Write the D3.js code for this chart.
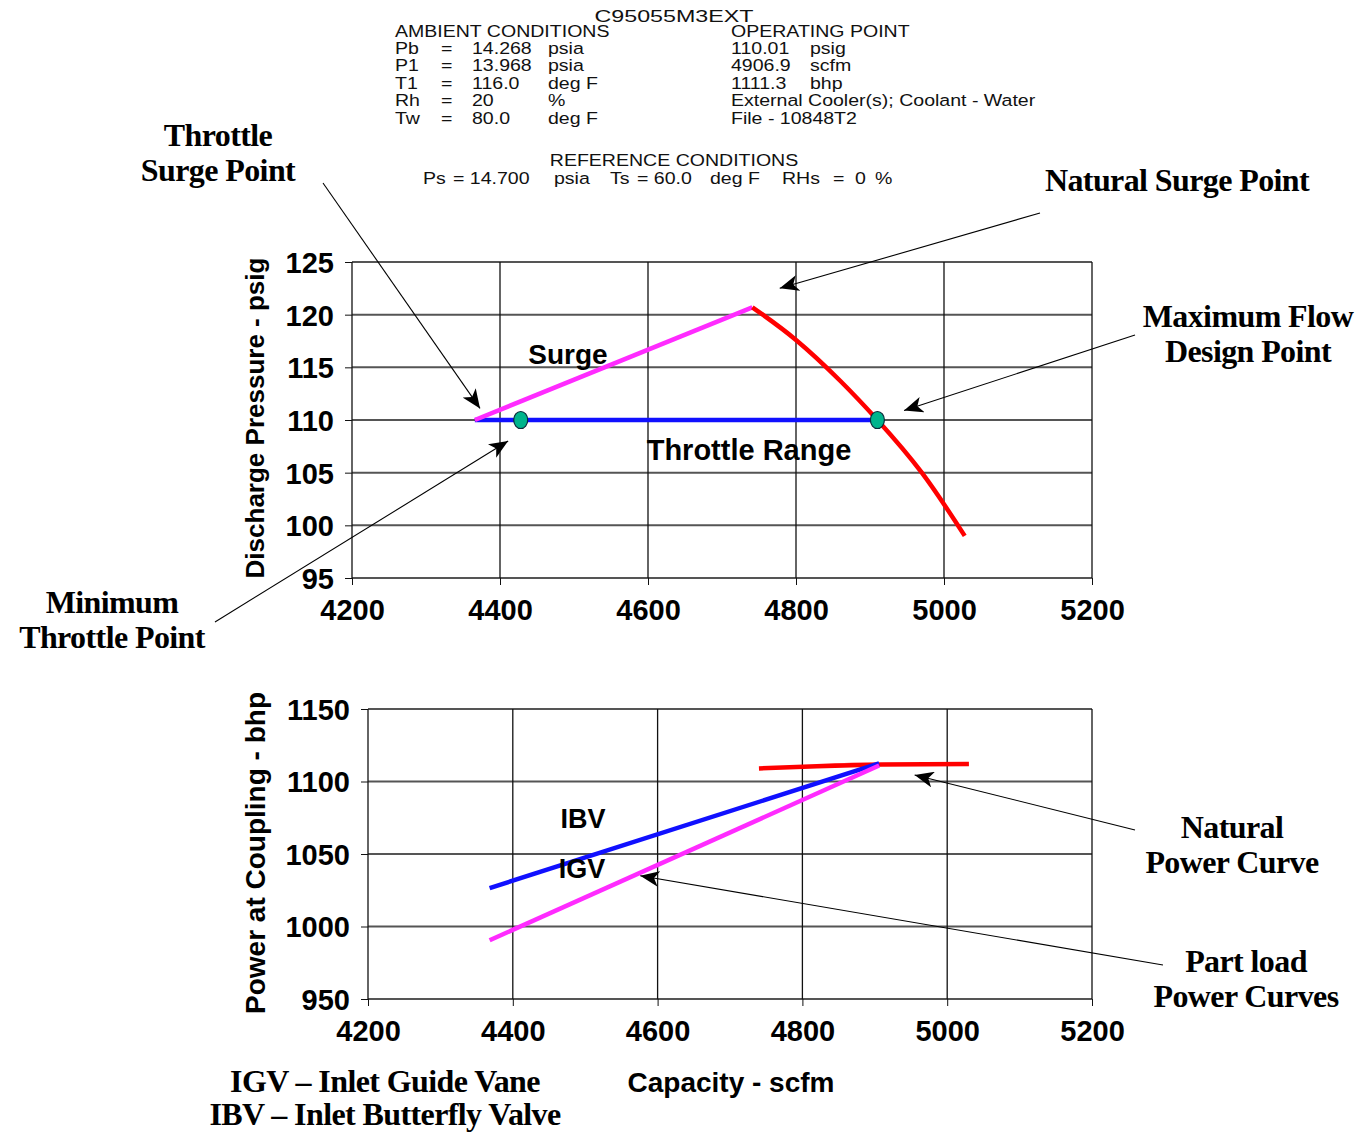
<!DOCTYPE html>
<html>
<head>
<meta charset="utf-8">
<script src="https://cdn.jsdelivr.net/npm/d3@7"></script>
<style>
  body { margin: 0; background: #fff; }
  svg { display: block; }
  .tick text { font-family: "Liberation Sans", Arial, sans-serif; font-weight: bold; font-size: 29px; fill: #000; }
  .hdr { font-family: "Liberation Sans", Arial, sans-serif; font-size: 17px; fill: #111; }
  .note { font-family: "Liberation Serif", "Times New Roman", serif; font-weight: bold; font-size: 32px; letter-spacing: -0.6px; fill: #000; }
  .lab { font-family: "Liberation Sans", Arial, sans-serif; font-weight: bold; fill: #000; }
</style>
</head>
<body>
<div id="chart"></div>
<script>
// tick values
const capTicks = [4200, 4400, 4600, 4800, 5000, 5200];
const pressTicks = [95, 100, 105, 110, 115, 120, 125];
const powerTicks = [950, 1000, 1050, 1100, 1150];

// discharge pressure vs capacity
const surgeLine = [[4366, 110], [4741, 120.7]];
const throttleRange = [[4366, 110], [4910, 110]];
const naturalCurve = [[4741, 120.7], [4800, 117.6], [4860, 113.7], [4910, 110], [4970, 105], [5028, 99]];
const throttlePoints = [[4428, 110], [4910, 110]];

// power vs capacity
const naturalPower = [[4740, 1109], [4820, 1110.5], [4910, 1111.7], [5030, 1112]];
const ibvPower = [[4368, 1026.5], [4906, 1112.5]];
const igvPower = [[4368, 990.5], [4906, 1111]];

// header block
const ambient = [["Pb", "14.268", "psia"], ["P1", "13.968", "psia"], ["T1", "116.0", "deg F"], ["Rh", "20", "%"], ["Tw", "80.0", "deg F"]];
const operating = [["110.01", "psig"], ["4906.9", "scfm"], ["1111.3", "bhp"], ["External Cooler(s); Coolant - Water", ""], ["File - 10848T2", ""]];
const reference = [["Ps", 423], ["= 14.700", 453], ["psia", 554], ["Ts", 610], ["= 60.0", 637], ["deg F", 710], ["RHs", 782], ["=", 833], ["0", 855], ["%", 875]];

const svg = d3.select("#chart").append("svg")
  .attr("width", 1357)
  .attr("height", 1132);

svg.append("rect").attr("width", 1357).attr("height", 1132).attr("fill", "#fff");

const defs = svg.append("defs");
defs.append("marker")
  .attr("id", "head")
  .attr("markerUnits", "userSpaceOnUse")
  .attr("markerWidth", 20).attr("markerHeight", 16)
  .attr("refX", 19).attr("refY", 8)
  .attr("orient", "auto")
  .append("path")
  .attr("d", "M0,0 L19,8 L0,16 L5,8 Z")
  .attr("fill", "#000");

// scales
const xTop = d3.scaleLinear().domain([4200, 5200]).range([352, 1092]);
const yTop = d3.scaleLinear().domain([95, 125]).range([578, 262]);
const xBot = d3.scaleLinear().domain([4200, 5200]).range([368, 1092]);
const yBot = d3.scaleLinear().domain([950, 1150]).range([999, 709]);

function panel(x, y, yTicks) {
  const g = svg.append("g");
  const [x0, x1] = x.range();
  const [yb, yt] = y.range();
  g.selectAll(".hg").data(yTicks).join("line")
    .attr("x1", x0).attr("x2", x1)
    .attr("y1", d => y(d)).attr("y2", d => y(d))
    .attr("stroke", "#555").attr("stroke-width", 2);
  g.selectAll(".vg").data(capTicks).join("line")
    .attr("x1", d => x(d)).attr("x2", d => x(d))
    .attr("y1", yt).attr("y2", yb)
    .attr("stroke", "#111").attr("stroke-width", 1.3);

  g.append("g")
    .attr("transform", `translate(0,${yb})`)
    .call(d3.axisBottom(x).tickValues(capTicks).tickSize(7).tickPadding(14).tickFormat(d3.format("d")))
    .call(a => a.select(".domain").remove())
    .call(a => a.selectAll(".tick line").attr("stroke", "#111"));

  g.append("g")
    .attr("transform", `translate(${x0},0)`)
    .call(d3.axisLeft(y).tickValues(yTicks).tickSize(7).tickPadding(11).tickFormat(d3.format("d")))
    .call(a => a.select(".domain").remove())
    .call(a => a.selectAll(".tick line").attr("stroke", "#111"))
    .call(a => a.selectAll(".tick text").attr("dy", "0.36em"));
  return g;
}

const topPanel = panel(xTop, yTop, pressTicks);
const botPanel = panel(xBot, yBot, powerTicks);

const lineTop = d3.line().x(d => xTop(d[0])).y(d => yTop(d[1]));
const lineBot = d3.line().x(d => xBot(d[0])).y(d => yBot(d[1]));

topPanel.append("path").datum(throttleRange).attr("d", lineTop)
  .attr("fill", "none").attr("stroke", "#1010ff").attr("stroke-width", 4.5);
topPanel.append("path").datum(surgeLine).attr("d", lineTop)
  .attr("fill", "none").attr("stroke", "#ff2bff").attr("stroke-width", 4.5);
topPanel.append("path").datum(naturalCurve)
  .attr("d", d3.line().x(d => xTop(d[0])).y(d => yTop(d[1])).curve(d3.curveNatural))
  .attr("fill", "none").attr("stroke", "#ff0000").attr("stroke-width", 4.5);
topPanel.selectAll(".pt").data(throttlePoints).join("ellipse")
  .attr("cx", d => xTop(d[0])).attr("cy", d => yTop(d[1]))
  .attr("rx", 7).attr("ry", 8.5)
  .attr("fill", "#00b48c").attr("stroke", "#0a2a3a").attr("stroke-width", 1.2);

botPanel.append("path").datum(naturalPower)
  .attr("d", d3.line().x(d => xBot(d[0])).y(d => yBot(d[1])).curve(d3.curveNatural))
  .attr("fill", "none").attr("stroke", "#ff0000").attr("stroke-width", 4.5);
botPanel.append("path").datum(ibvPower).attr("d", lineBot)
  .attr("fill", "none").attr("stroke", "#1010ff").attr("stroke-width", 4.5);
botPanel.append("path").datum(igvPower).attr("d", lineBot)
  .attr("fill", "none").attr("stroke", "#ff2bff").attr("stroke-width", 4.5);

// in-plot labels
function label(x, y, s, size, anchor = "middle") {
  svg.append("text").attr("class", "lab").attr("x", x).attr("y", y)
    .attr("font-size", size).attr("text-anchor", anchor).text(s);
}
label(568, 364, "Surge", 28);
label(749, 460, "Throttle Range", 29);
label(583, 828, "IBV", 27);
label(582, 878, "IGV", 27);
label(731, 1092, "Capacity - scfm", 28);

svg.append("text").attr("class", "lab").attr("font-size", 26)
  .attr("transform", "translate(264,418) rotate(-90)")
  .attr("text-anchor", "middle").text("Discharge Pressure - psig");
svg.append("text").attr("class", "lab").attr("font-size", 28)
  .attr("transform", "translate(265,853) rotate(-90)")
  .attr("text-anchor", "middle").text("Power at Coupling - bhp");

// header text, slightly widened like the original
function hdr(x, y, s, anchor = "start", size = 17, sx = 1.15) {
  svg.append("text").attr("class", "hdr")
    .attr("transform", `translate(${x},${y}) scale(${sx},1)`)
    .attr("font-size", size).attr("text-anchor", anchor).text(s);
}
hdr(674, 22, "C95055M3EXT", "middle", 20, 1.37);
hdr(395, 37, "AMBIENT CONDITIONS");
hdr(731, 37, "OPERATING POINT");
ambient.forEach((r, i) => {
  const yy = 54 + i * 17.4;
  hdr(395, yy, r[0]);
  hdr(441, yy, "=");
  hdr(472, yy, r[1]);
  hdr(548, yy, r[2]);
});
operating.forEach((r, i) => {
  const yy = 54 + i * 17.4;
  hdr(731, yy, r[0]);
  if (r[1]) hdr(810, yy, r[1]);
});
hdr(674, 166, "REFERENCE CONDITIONS", "middle");
reference.forEach(r => hdr(r[1], 184, r[0]));

// callouts
function note(x, y, lines, gap = 35) {
  lines.forEach((s, i) => {
    svg.append("text").attr("class", "note").attr("x", x).attr("y", y + i * gap)
      .attr("text-anchor", "middle").text(s);
  });
}
note(218, 146, ["Throttle", "Surge Point"]);
note(1177, 191, ["Natural Surge Point"]);
note(1248, 327, ["Maximum Flow", "Design Point"]);
note(112, 613, ["Minimum", "Throttle Point"]);
note(1232, 838, ["Natural", "Power Curve"]);
note(1246, 972, ["Part load", "Power Curves"]);
note(385, 1092, ["IGV \u2013 Inlet Guide Vane", "IBV \u2013 Inlet Butterfly Valve"], 33);

// pointer lines: start near the text, tip at a chart location
const pointers = [
  { from: [323, 183], sx: xTop, sy: yTop, to: [4373, 111.1] },
  { from: [1040, 213], sx: xTop, sy: yTop, to: [4778, 122.5] },
  { from: [1135, 335], sx: xTop, sy: yTop, to: [4946, 110.9] },
  { from: [215, 622], sx: xTop, sy: yTop, to: [4411, 108.0] },
  { from: [1135, 830], sx: xBot, sy: yBot, to: [4955, 1104.5] },
  { from: [1163, 965], sx: xBot, sy: yBot, to: [4576, 1035] }
];
svg.selectAll(".ptr").data(pointers).join("line")
  .attr("x1", d => d.from[0]).attr("y1", d => d.from[1])
  .attr("x2", d => d.sx(d.to[0])).attr("y2", d => d.sy(d.to[1]))
  .attr("stroke", "#000").attr("stroke-width", 1.1)
  .attr("marker-end", "url(#head)");
</script>
</body>
</html>
